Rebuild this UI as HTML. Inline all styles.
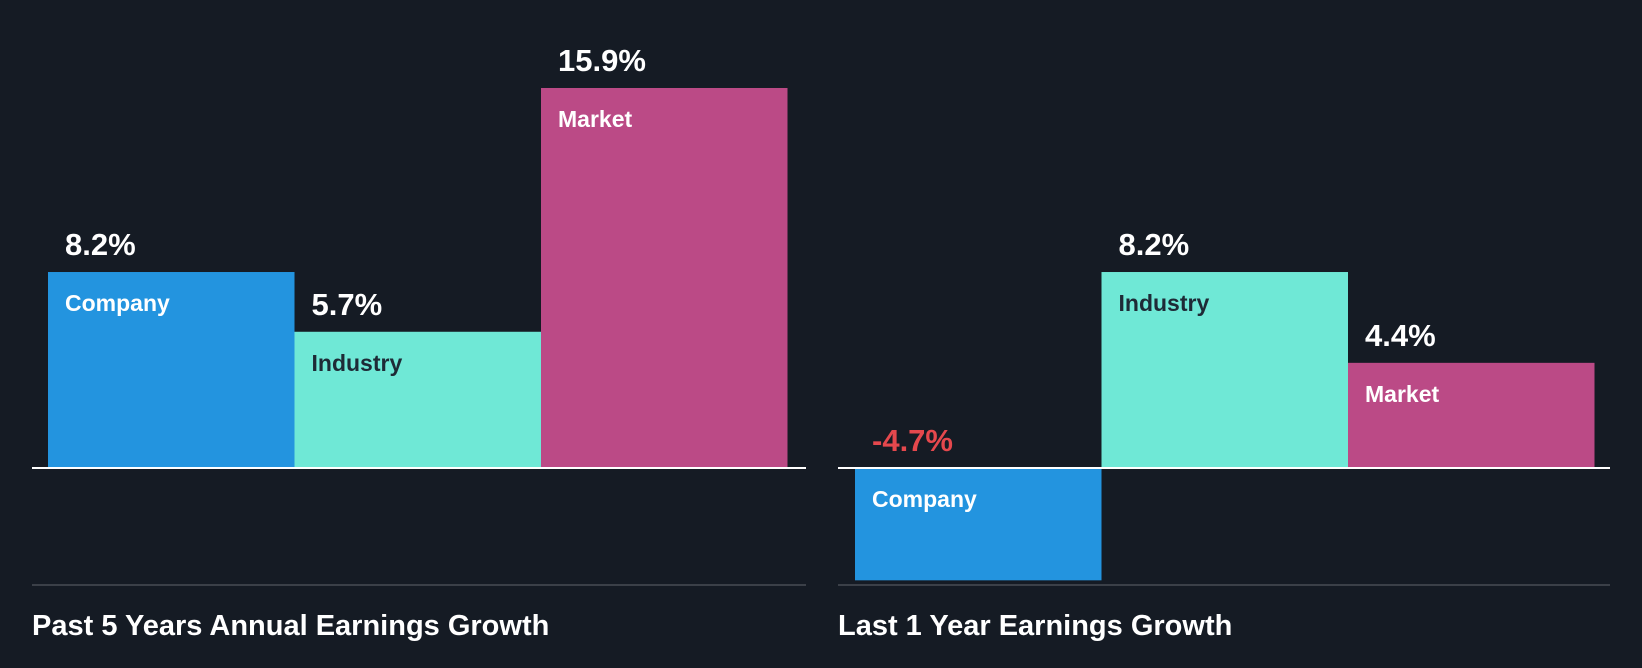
<!DOCTYPE html>
<html><head><meta charset="utf-8"><style>
html,body{margin:0;padding:0;background:#151b24;}
svg{display:block;font-family:"Liberation Sans",sans-serif;font-weight:bold;}
</style></head><body>
<svg width="1642" height="668" viewBox="0 0 1642 668">
<rect width="1642" height="668" fill="#151b24"/>
<g id="charts"></g>
</svg>
<script>
const categories = ["Company", "Industry", "Market"];
const past5Values = [8.2, 5.7, 15.9];
const last1Values = [-4.7, 8.2, 4.4];
const panelTitles = ["Past 5 Years Annual Earnings Growth", "Last 1 Year Earnings Growth"];

const colors = ["#2394df", "#6fe8d6", "#bb4a86"];
const labelColors = ["#ffffff", "#1e2a36", "#ffffff"];
const NS = "http://www.w3.org/2000/svg";
const root = document.getElementById("charts");
function mk(tag, attrs, parent) {
  const e = document.createElementNS(NS, tag);
  for (const k in attrs) e.setAttribute(k, attrs[k]);
  parent.appendChild(e);
  return e;
}
const baseY = 468;
const pxPerUnit = 23.9;
function yScale(v) { return baseY - v * pxPerUnit; }

const panels = [
  {x0: 32, x1: 806, barX: 48, values: past5Values, title: panelTitles[0], name: "past-5-years"},
  {x0: 838, x1: 1610, barX: 855, values: last1Values, title: panelTitles[1], name: "last-1-year"}
];
const barW = 246.5;
panels.forEach(p => {
  const g = mk("g", {}, root);
  
  
  p.values.forEach((v, i) => {
    const x = p.barX + i * barW;
    const top = Math.min(yScale(v), baseY);
    const h = Math.abs(yScale(v) - baseY);
    const r = mk("rect", {x: x, y: top, width: barW, height: h, fill: colors[i]}, g);
    
    
    const valY = v >= 0 ? yScale(v) - 17 : baseY - 17;
    const vt = mk("text", {x: x + 17, y: valY, fill: v >= 0 ? "#ffffff" : "#e5484d", "font-size": 31}, g);
    vt.textContent = v.toFixed(1) + "%";
    
    
    const labY = v >= 0 ? yScale(v) + 39 : baseY + 39;
    const lt = mk("text", {x: x + 17, y: labY, fill: labelColors[i], "font-size": 23}, g);
    lt.textContent = categories[i];
    
    
  });
  const zl = mk("line", {x1: p.x0, x2: p.x1, y1: baseY, y2: baseY, stroke: "#ffffff", "stroke-width": 2}, g);
  
  
  const bl = mk("line", {x1: p.x0, x2: p.x1, y1: 585, y2: 585, stroke: "#3b4048", "stroke-width": 2}, g);
  
  
  const t = mk("text", {x: p.x0, y: 635, fill: "#ffffff", "font-size": 29}, g);
  t.textContent = p.title;
  
  
});
</script>
</body></html>
